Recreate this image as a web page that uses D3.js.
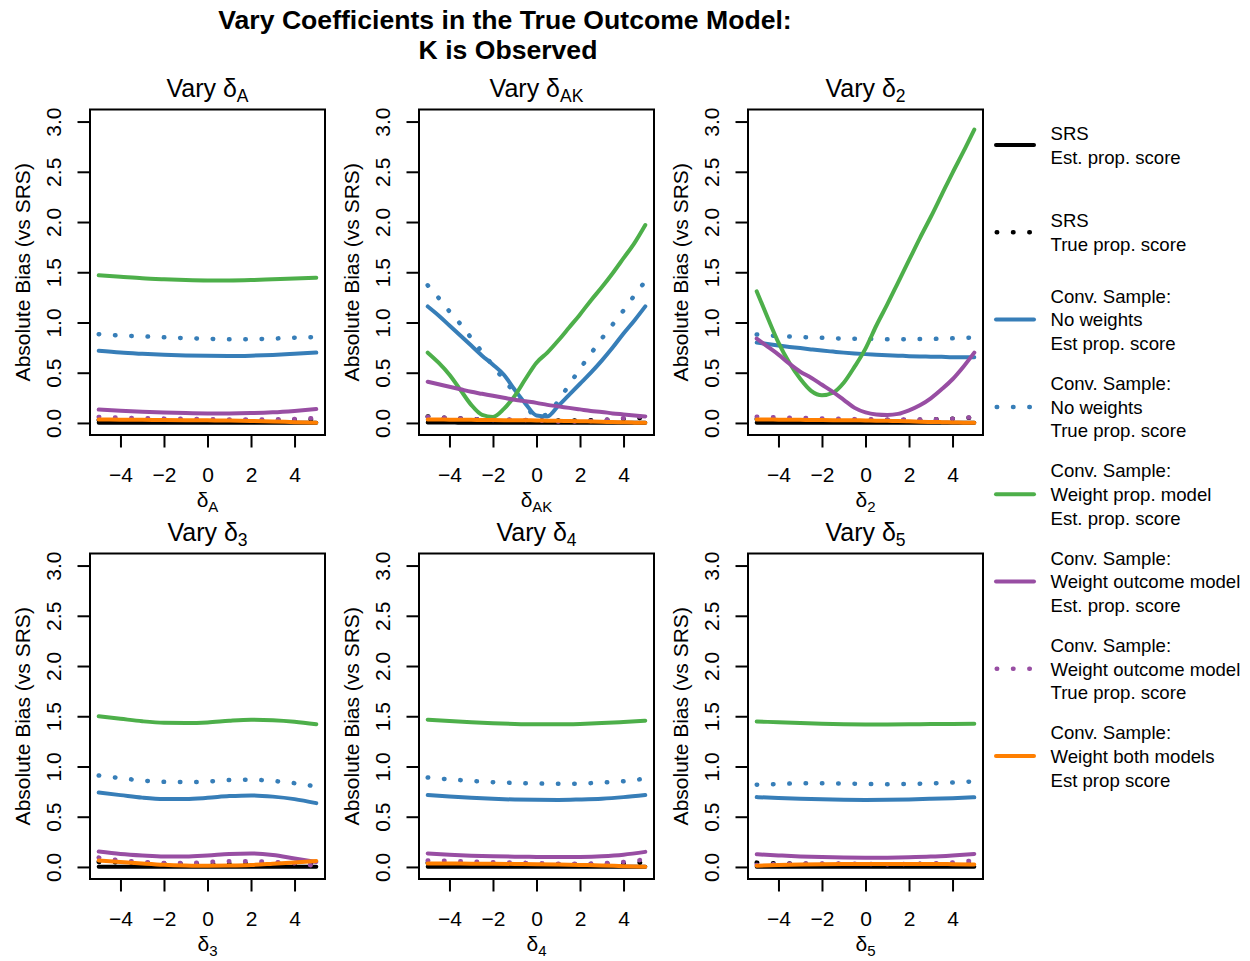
<!DOCTYPE html>
<html>
<head>
<meta charset="utf-8">
<script src="https://cdn.jsdelivr.net/npm/d3@7"></script>
<style>
  body { margin: 0; background: #fff; }
  text { font-family: "Liberation Sans", Arial, Helvetica, sans-serif; fill: #000; }
</style>
</head>
<body>
<svg id="fig" width="1250" height="961"></svg>
<script>
// ---- x grids ----
const xWhole = [-5, -4, -3, -2, -1, 0, 1, 2, 3, 4, 5];
const xHalf = [-5, -4.5, -4, -3.5, -3, -2.5, -2, -1.5, -1, -0.5, 0, 0.5, 1, 1.5, 2, 2.5, 3, 3.5, 4, 4.5, 5];

// ---- axis ticks ----
const xTicks = [-4, -2, 0, 2, 4];
const xTickLabels = ["\u22124", "\u22122", "0", "2", "4"];
const yTicks = [0, 0.5, 1, 1.5, 2, 2.5, 3];
const yTickLabels = ["0.0", "0.5", "1.0", "1.5", "2.0", "2.5", "3.0"];

// ---- Vary delta_A ----
const dA_srsEst   = [0.003, 0.003, 0.003, 0.003, 0.003, 0.003, 0.003, 0.003, 0.003, 0.003, 0.003];
const dA_srsTrue  = [0.030, 0.030, 0.028, 0.027, 0.026, 0.025, 0.025, 0.026, 0.028, 0.032, 0.038];
const dA_noWtEst  = [0.718, 0.700, 0.688, 0.678, 0.672, 0.668, 0.667, 0.670, 0.677, 0.688, 0.700];
const dA_noWtTrue = [0.884, 0.870, 0.862, 0.852, 0.845, 0.838, 0.834, 0.834, 0.840, 0.848, 0.856];
const dA_propEst  = [1.470, 1.455, 1.440, 1.430, 1.422, 1.418, 1.418, 1.422, 1.430, 1.438, 1.445];
const dA_outEst   = [0.133, 0.122, 0.112, 0.104, 0.098, 0.095, 0.095, 0.098, 0.106, 0.120, 0.138];
const dA_outTrue  = [0.060, 0.052, 0.047, 0.043, 0.040, 0.037, 0.035, 0.034, 0.035, 0.040, 0.050];
const dA_bothEst  = [0.035, 0.033, 0.031, 0.030, 0.028, 0.026, 0.024, 0.020, 0.015, 0.008, 0.002];

// ---- Vary delta_AK ----
const dAK_srsEst   = [0.004, 0.004, 0.004, 0.003, 0.003, 0.003, 0.003, 0.003, 0.003, 0.003, 0.003, 0.003, 0.003, 0.003, 0.003, 0.003, 0.003, 0.003, 0.003, 0.003, 0.003];
const dAK_srsTrue  = [0.065, 0.055, 0.050, 0.045, 0.040, 0.035, 0.030, 0.030, 0.028, 0.026, 0.025, 0.024, 0.024, 0.025, 0.026, 0.028, 0.030, 0.034, 0.040, 0.046, 0.052];
const dAK_noWtEst  = [1.160, 1.070, 0.970, 0.870, 0.770, 0.670, 0.580, 0.480, 0.330, 0.190, 0.075, 0.065, 0.170, 0.280, 0.390, 0.500, 0.620, 0.750, 0.890, 1.020, 1.160];
const dAK_noWtTrue = [1.370, 1.245, 1.110, 0.985, 0.845, 0.705, 0.570, 0.430, 0.300, 0.170, 0.065, 0.085, 0.220, 0.380, 0.540, 0.690, 0.840, 0.980, 1.120, 1.270, 1.410];
const dAK_propEst  = [0.700, 0.600, 0.480, 0.330, 0.180, 0.080, 0.060, 0.140, 0.270, 0.440, 0.600, 0.700, 0.820, 0.950, 1.080, 1.220, 1.350, 1.490, 1.640, 1.790, 1.970];
const dAK_outEst   = [0.410, 0.385, 0.360, 0.335, 0.310, 0.290, 0.270, 0.250, 0.230, 0.215, 0.200, 0.180, 0.165, 0.150, 0.135, 0.120, 0.110, 0.095, 0.085, 0.075, 0.065];
const dAK_outTrue  = [0.060, 0.055, 0.050, 0.045, 0.040, 0.035, 0.030, 0.032, 0.035, 0.030, 0.025, 0.020, 0.015, 0.015, 0.015, 0.020, 0.028, 0.036, 0.048, 0.058, 0.070];
const dAK_bothEst  = [0.035, 0.034, 0.033, 0.032, 0.031, 0.030, 0.029, 0.028, 0.027, 0.026, 0.025, 0.023, 0.021, 0.019, 0.017, 0.015, 0.012, 0.009, 0.006, 0.003, 0.001];

// ---- Vary delta_2 ----
const d2_srsEst   = [0.003, 0.003, 0.003, 0.003, 0.003, 0.003, 0.003, 0.003, 0.003, 0.003, 0.003, 0.003, 0.003, 0.003, 0.003, 0.003, 0.003, 0.003, 0.003, 0.003, 0.003];
const d2_srsTrue  = [0.040, 0.038, 0.036, 0.034, 0.032, 0.030, 0.030, 0.030, 0.030, 0.030, 0.030, 0.030, 0.030, 0.030, 0.030, 0.032, 0.034, 0.038, 0.042, 0.048, 0.055];
const d2_noWtEst  = [0.800, 0.785, 0.770, 0.757, 0.745, 0.732, 0.720, 0.710, 0.700, 0.692, 0.685, 0.680, 0.675, 0.670, 0.665, 0.662, 0.660, 0.658, 0.655, 0.655, 0.655];
const d2_noWtTrue = [0.880, 0.872, 0.865, 0.860, 0.855, 0.851, 0.847, 0.843, 0.840, 0.839, 0.838, 0.836, 0.834, 0.834, 0.834, 0.835, 0.836, 0.839, 0.842, 0.846, 0.850];
const d2_propEst  = [1.310, 1.050, 0.800, 0.600, 0.440, 0.320, 0.275, 0.300, 0.400, 0.560, 0.740, 0.970, 1.180, 1.400, 1.620, 1.840, 2.050, 2.270, 2.490, 2.700, 2.920];
const d2_outEst   = [0.840, 0.760, 0.680, 0.590, 0.510, 0.450, 0.380, 0.310, 0.230, 0.150, 0.105, 0.085, 0.080, 0.090, 0.125, 0.175, 0.245, 0.335, 0.435, 0.560, 0.700];
const d2_outTrue  = [0.062, 0.058, 0.055, 0.052, 0.050, 0.047, 0.045, 0.042, 0.040, 0.038, 0.037, 0.036, 0.035, 0.034, 0.034, 0.034, 0.035, 0.038, 0.042, 0.050, 0.058];
const d2_bothEst  = [0.035, 0.034, 0.033, 0.032, 0.031, 0.030, 0.029, 0.028, 0.027, 0.026, 0.025, 0.023, 0.021, 0.019, 0.016, 0.013, 0.010, 0.008, 0.005, 0.003, 0.001];

// ---- Vary delta_3 ----
const d3_srsEst   = [0.003, 0.003, 0.003, 0.003, 0.003, 0.003, 0.003, 0.003, 0.003, 0.003, 0.003];
const d3_srsTrue  = [0.050, 0.045, 0.040, 0.035, 0.030, 0.030, 0.030, 0.032, 0.035, 0.038, 0.040];
const d3_noWtEst  = [0.740, 0.715, 0.690, 0.677, 0.677, 0.688, 0.705, 0.712, 0.700, 0.675, 0.635];
const d3_noWtTrue = [0.910, 0.885, 0.860, 0.847, 0.845, 0.850, 0.866, 0.868, 0.856, 0.834, 0.800];
const d3_propEst  = [1.500, 1.475, 1.450, 1.435, 1.433, 1.438, 1.455, 1.465, 1.460, 1.445, 1.420];
const d3_outEst   = [0.153, 0.130, 0.115, 0.105, 0.105, 0.115, 0.130, 0.135, 0.120, 0.085, 0.050];
const d3_outTrue  = [0.093, 0.065, 0.050, 0.040, 0.038, 0.048, 0.057, 0.057, 0.050, 0.037, 0.010];
const d3_bothEst  = [0.065, 0.050, 0.035, 0.022, 0.015, 0.012, 0.014, 0.020, 0.032, 0.045, 0.060];

// ---- Vary delta_4 ----
const d4_srsEst   = [0.003, 0.003, 0.003, 0.003, 0.003, 0.003, 0.003, 0.003, 0.003, 0.003, 0.003];
const d4_srsTrue  = [0.040, 0.035, 0.032, 0.030, 0.028, 0.027, 0.027, 0.028, 0.030, 0.035, 0.045];
const d4_noWtEst  = [0.715, 0.700, 0.688, 0.678, 0.671, 0.668, 0.667, 0.672, 0.680, 0.695, 0.715];
const d4_noWtTrue = [0.890, 0.872, 0.857, 0.843, 0.836, 0.831, 0.827, 0.830, 0.840, 0.853, 0.880];
const d4_propEst  = [1.466, 1.452, 1.440, 1.430, 1.423, 1.420, 1.420, 1.424, 1.432, 1.443, 1.455];
const d4_outEst   = [0.135, 0.122, 0.112, 0.106, 0.102, 0.100, 0.098, 0.100, 0.107, 0.122, 0.150];
const d4_outTrue  = [0.063, 0.060, 0.053, 0.047, 0.043, 0.038, 0.033, 0.032, 0.036, 0.050, 0.075];
const d4_bothEst  = [0.035, 0.034, 0.033, 0.032, 0.030, 0.028, 0.025, 0.020, 0.015, 0.008, 0.002];

// ---- Vary delta_5 ----
const d5_srsEst   = [0.003, 0.003, 0.003, 0.003, 0.003, 0.003, 0.003, 0.003, 0.003, 0.003, 0.003];
const d5_srsTrue  = [0.043, 0.036, 0.033, 0.030, 0.028, 0.027, 0.027, 0.028, 0.030, 0.032, 0.035];
const d5_noWtEst  = [0.695, 0.687, 0.680, 0.674, 0.669, 0.667, 0.668, 0.672, 0.678, 0.685, 0.693];
const d5_noWtTrue = [0.818, 0.826, 0.832, 0.833, 0.831, 0.826, 0.823, 0.826, 0.832, 0.840, 0.852];
const d5_propEst  = [1.448, 1.440, 1.432, 1.425, 1.420, 1.418, 1.418, 1.420, 1.422, 1.424, 1.425];
const d5_outEst   = [0.126, 0.115, 0.105, 0.098, 0.093, 0.091, 0.092, 0.096, 0.103, 0.115, 0.130];
const d5_outTrue  = [0.020, 0.028, 0.033, 0.034, 0.033, 0.030, 0.028, 0.030, 0.036, 0.045, 0.065];
const d5_bothEst  = [0.012, 0.020, 0.025, 0.028, 0.030, 0.030, 0.030, 0.030, 0.030, 0.028, 0.025];

// ---- series styles and legend text ----
const seriesKeys   = ["srsEst", "srsTrue", "noWtEst", "noWtTrue", "propEst", "outEst", "outTrue", "bothEst"];
const seriesColors = ["#000000", "#000000", "#377EB8", "#377EB8", "#4DAF4A", "#984EA3", "#984EA3", "#FF7F00"];
const seriesDotted = [false, true, false, true, false, false, true, false];
const legendLabels = [
  ["SRS", "Est. prop. score"],
  ["SRS", "True prop. score"],
  ["Conv. Sample:", "No weights", "Est prop. score"],
  ["Conv. Sample:", "No weights", "True prop. score"],
  ["Conv. Sample:", "Weight prop. model", "Est. prop. score"],
  ["Conv. Sample:", "Weight outcome model", "Est. prop. score"],
  ["Conv. Sample:", "Weight outcome model", "True prop. score"],
  ["Conv. Sample:", "Weight both models", "Est prop score"]
];

// ---- panels ----
const panelSubscripts = ["A", "AK", "2", "3", "4", "5"];
const panelGrids = [xWhole, xHalf, xHalf, xWhole, xWhole, xWhole];
const panelSeries = [
  [dA_srsEst, dA_srsTrue, dA_noWtEst, dA_noWtTrue, dA_propEst, dA_outEst, dA_outTrue, dA_bothEst],
  [dAK_srsEst, dAK_srsTrue, dAK_noWtEst, dAK_noWtTrue, dAK_propEst, dAK_outEst, dAK_outTrue, dAK_bothEst],
  [d2_srsEst, d2_srsTrue, d2_noWtEst, d2_noWtTrue, d2_propEst, d2_outEst, d2_outTrue, d2_bothEst],
  [d3_srsEst, d3_srsTrue, d3_noWtEst, d3_noWtTrue, d3_propEst, d3_outEst, d3_outTrue, d3_bothEst],
  [d4_srsEst, d4_srsTrue, d4_noWtEst, d4_noWtTrue, d4_propEst, d4_outEst, d4_outTrue, d4_bothEst],
  [d5_srsEst, d5_srsTrue, d5_noWtEst, d5_noWtTrue, d5_propEst, d5_outEst, d5_outTrue, d5_bothEst]
];

// ---- layout ----
const boxLefts = [90, 419, 748];
const boxTops = [109.5, 553.5];
const boxW = 235, boxH = 325.5;
const lineW = 4;
const dotDash = "0.5 15.8";

const svg = d3.select("#fig");

// main title
const title = svg.append("text").attr("text-anchor", "middle")
  .style("font-size", "26.6px").style("font-weight", "bold");
title.append("tspan").attr("x", 505).attr("y", 29).text("Vary Coefficients in the True Outcome Model:");
title.append("tspan").attr("x", 508).attr("y", 59).text("K is Observed");

function deltaText(sel, sub, size, subSize, prefix) {
  if (prefix) sel.append("tspan").text(prefix);
  sel.append("tspan").text("\u03b4");
  sel.append("tspan").attr("dy", size * 0.22).style("font-size", subSize + "px").text(sub);
}

panelSeries.forEach((series, p) => {
  const left = boxLefts[p % 3];
  const top = boxTops[Math.floor(p / 3)];
  const bottom = top + boxH;
  const xs = panelGrids[p];

  const x = d3.scaleLinear().domain([-5.4, 5.4]).range([left, left + boxW]);
  const y = d3.scaleLinear().domain([-0.12, 3.12]).range([bottom, top]);

  const g = svg.append("g");

  // clip to plotting region
  const clipId = "clip" + p;
  g.append("clipPath").attr("id", clipId)
    .append("rect").attr("x", left).attr("y", top).attr("width", boxW).attr("height", boxH);

  // series lines
  const line = d3.line().x(d => x(d[0])).y(d => y(d[1])).curve(d3.curveMonotoneX);
  const plot = g.append("g").attr("clip-path", `url(#${clipId})`);
  series.forEach((vals, i) => {
    const pts = xs.map((xv, k) => [xv, vals[k]]);
    const path = plot.append("path").datum(pts)
      .attr("d", line)
      .attr("fill", "none")
      .attr("stroke", seriesColors[i])
      .attr("stroke-width", seriesDotted[i] ? 4.5 : lineW)
      .attr("stroke-linejoin", "round")
      .attr("stroke-linecap", "round");
    if (seriesDotted[i]) path.attr("stroke-dasharray", dotDash);
  });

  // axes
  const xAxis = d3.axisBottom(x).tickValues(xTicks).tickSize(12.5)
    .tickFormat((d, k) => xTickLabels[k]);
  const gx = g.append("g").attr("transform", `translate(0,${bottom})`).call(xAxis);
  gx.select(".domain").attr("d", `M${x(xTicks[0])},0H${x(xTicks[xTicks.length - 1])}`)
    .attr("stroke", "#000").attr("stroke-width", 2);
  gx.selectAll(".tick line").attr("stroke", "#000").attr("stroke-width", 2);
  gx.selectAll(".tick text").attr("y", 0).attr("dy", 0)
    .attr("transform", "translate(0,47)")
    .style("font-size", "21px").style("font-family", '"Liberation Sans", Arial, sans-serif');

  const yAxis = d3.axisLeft(y).tickValues(yTicks).tickSize(12.5)
    .tickFormat((d, k) => yTickLabels[k]);
  const gy = g.append("g").attr("transform", `translate(${left},0)`).call(yAxis);
  gy.select(".domain").attr("d", `M0,${y(0)}V${y(3)}`)
    .attr("stroke", "#000").attr("stroke-width", 2);
  gy.selectAll(".tick line").attr("stroke", "#000").attr("stroke-width", 2);
  gy.selectAll(".tick text").attr("x", 0).attr("dy", 0).attr("y", 0)
    .attr("text-anchor", "middle")
    .attr("transform", "translate(-29,0) rotate(-90)")
    .style("font-size", "21px").style("font-family", '"Liberation Sans", Arial, sans-serif');

  // box
  g.append("rect").attr("x", left).attr("y", top).attr("width", boxW).attr("height", boxH)
    .attr("fill", "none").attr("stroke", "#000").attr("stroke-width", 2);

  const cx = left + boxW / 2;

  // panel title
  const pt = g.append("text").attr("x", cx).attr("y", top - 13)
    .attr("text-anchor", "middle").style("font-size", "25px");
  deltaText(pt, panelSubscripts[p], 25, 17.5, "Vary ");

  // x label
  const xl = g.append("text").attr("x", cx).attr("y", bottom + 72)
    .attr("text-anchor", "middle").style("font-size", "21px");
  deltaText(xl, panelSubscripts[p], 21, 15);

  // y label
  g.append("text")
    .attr("transform", `translate(${left - 60},${top + boxH / 2}) rotate(-90)`)
    .attr("text-anchor", "middle").style("font-size", "21px")
    .text("Absolute Bias (vs SRS)");
});

// ---- legend ----
const legend = svg.append("g");
const legY0 = 145, legStep = 87.3, legLine = 23.7;
legendLabels.forEach((lines, i) => {
  const cy = legY0 + i * legStep;
  const seg = legend.append("line")
    .attr("x1", seriesDotted[i] ? 996.7 : 996).attr("x2", 1034)
    .attr("y1", cy).attr("y2", cy)
    .attr("stroke", seriesColors[i])
    .attr("stroke-width", seriesDotted[i] ? 4.5 : lineW)
    .attr("stroke-linecap", "round");
  if (seriesDotted[i]) seg.attr("stroke-dasharray", dotDash);
  const n = lines.length;
  lines.forEach((t, k) => {
    legend.append("text")
      .attr("x", 1050.5)
      .attr("y", cy + (k - (n - 1) / 2) * legLine + 6.8)
      .style("font-size", "18.6px")
      .text(t);
  });
});
</script>
</body>
</html>
